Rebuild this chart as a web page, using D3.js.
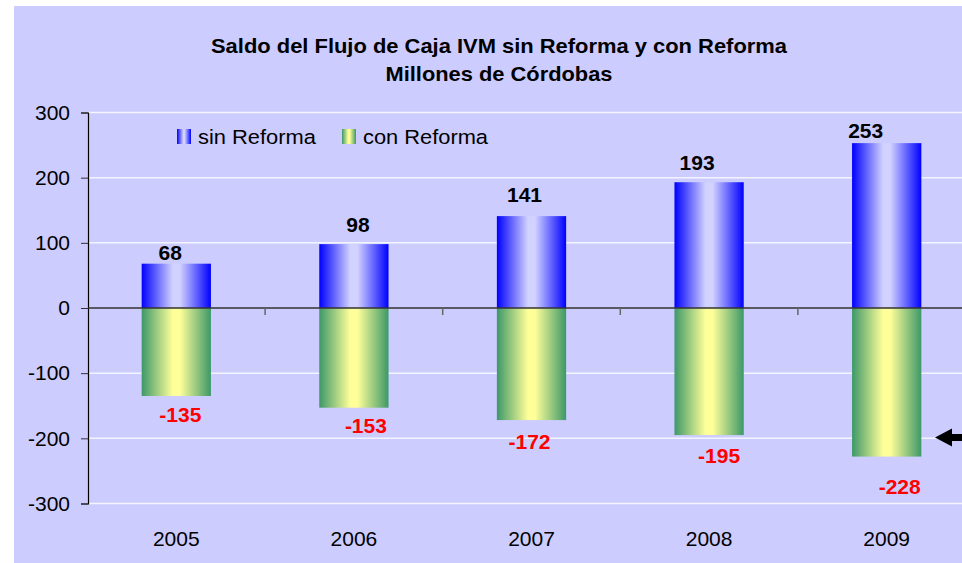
<!DOCTYPE html>
<html><head><meta charset="utf-8">
<script src="https://cdn.jsdelivr.net/npm/d3@7"></script>
<style>html,body{margin:0;padding:0;background:#fff;}svg{display:block;font-family:"Liberation Sans",Arial,sans-serif;}</style>
</head><body>
<svg id="c" width="962" height="563"></svg>
<script>
const years = ["2005","2006","2007","2008","2009"];
const sinReforma = [68, 98, 141, 193, 253];
const conReforma = [-135, -153, -172, -195, -228];
const yTicks = [300, 200, 100, 0, -100, -200, -300];
const seriesNames = ["sin Reforma", "con Reforma"];
const titleLines = ["Saldo del Flujo de Caja IVM sin Reforma y con Reforma", "Millones de Córdobas"];
// label nudges (layout only, as placed in the reference)
const posNudge = [[-6,-4],[4,-12],[-7,-14],[-12,-12],[-21,-5]];
const negNudge = [[4,26],[12,25],[-2,29],[10,28],[13,37]];

const svg = d3.select("#c");
const defs = svg.append("defs");
function grad(id, edge, mid){
  const g = defs.append("linearGradient").attr("id", id).attr("x1","0%").attr("x2","100%").attr("y1","0%").attr("y2","0%");
  g.append("stop").attr("offset","0%").attr("stop-color",edge);
  g.append("stop").attr("offset","45%").attr("stop-color",mid);
  g.append("stop").attr("offset","55%").attr("stop-color",mid);
  g.append("stop").attr("offset","100%").attr("stop-color",edge);
}
grad("gBlue", "#0000ff", "#d2d2ff");
grad("gGreen", "#3d9868", "#ffff99");

svg.append("rect").attr("x",14).attr("y",6).attr("width",960).attr("height",570).attr("fill","#ccccff");

const x = d3.scaleBand().domain(years).range([87.5, 975.5]).paddingInner(0.61).paddingOuter(0.305);
const y = d3.scaleLinear().domain([-300, 300]).range([503.5, 112.5]);

// gridlines
svg.append("g").selectAll("line").data(yTicks.filter(d => d !== 0)).join("line")
  .attr("x1", 88).attr("x2", 962).attr("y1", d => y(d)).attr("y2", d => y(d))
  .attr("stroke", "#f4f4ff").attr("stroke-width", 1.5);

// bars
svg.append("g").selectAll("rect").data(years).join("rect")
  .attr("x", d => x(d)).attr("width", x.bandwidth())
  .attr("y", (d,i) => y(sinReforma[i])).attr("height", (d,i) => y(0) - y(sinReforma[i]))
  .attr("fill", "url(#gBlue)");
svg.append("g").selectAll("rect").data(years).join("rect")
  .attr("x", d => x(d)).attr("width", x.bandwidth())
  .attr("y", y(0)).attr("height", (d,i) => y(conReforma[i]) - y(0))
  .attr("fill", "url(#gGreen)");

// y axis
const yAxis = d3.axisLeft(y).tickValues(yTicks).tickSize(7).tickPadding(11).tickFormat(d => String(d));
const ya = svg.append("g").attr("transform", "translate(88,0)").call(yAxis);
ya.select(".domain").attr("stroke", "#000").attr("stroke-width", 1.2);
ya.selectAll(".tick line").attr("stroke", "#333");
ya.selectAll(".tick text").attr("font-size", 21).attr("fill", "#000").attr("font-family", "Liberation Sans, Arial, sans-serif");

// zero line
svg.append("line").attr("x1", 88).attr("x2", 962).attr("y1", y(0)).attr("y2", y(0)).attr("stroke", "#333").attr("stroke-width", 1.3);
// category ticks
const bounds = years.slice(1).map(d => x(d) - x.step() * x.paddingInner() / 2);
svg.append("g").selectAll("line").data(bounds).join("line")
  .attr("x1", d => d).attr("x2", d => d).attr("y1", y(0)).attr("y2", y(0) + 7)
  .attr("stroke", "#666").attr("stroke-width", 1.5);

// x labels
svg.append("g").selectAll("text").data(years).join("text")
  .attr("x", d => x(d) + x.bandwidth() / 2).attr("y", 546)
  .attr("text-anchor", "middle").attr("font-size", 21).attr("fill", "#000").text(d => d);

// value labels
svg.append("g").selectAll("text").data(years).join("text")
  .attr("x", (d,i) => x(d) + x.bandwidth() / 2 + posNudge[i][0])
  .attr("y", (d,i) => y(sinReforma[i]) + posNudge[i][1])
  .attr("text-anchor", "middle").attr("font-size", 21).attr("font-weight", "bold").attr("fill", "#000")
  .text((d,i) => sinReforma[i]);
svg.append("g").selectAll("text").data(years).join("text")
  .attr("x", (d,i) => x(d) + x.bandwidth() / 2 + negNudge[i][0])
  .attr("y", (d,i) => y(conReforma[i]) + negNudge[i][1])
  .attr("text-anchor", "middle").attr("font-size", 21).attr("font-weight", "bold").attr("fill", "#ff0000")
  .text((d,i) => conReforma[i]);

// title
const titleWidths = [576, 227];
svg.append("g").selectAll("text").data(titleLines).join("text")
  .attr("x", 499).attr("y", (d,i) => 53 + i * 28)
  .attr("text-anchor", "middle").attr("font-size", 20.5).attr("font-weight", "bold").attr("fill", "#000")
  .attr("textLength", (d,i) => titleWidths[i]).attr("lengthAdjust", "spacingAndGlyphs")
  .text(d => d);

// legend
const leg = svg.append("g");
const legX = [177, 342];
const legW = [118, 125];
const legFills = ["url(#gBlue)", "url(#gGreen)"];
seriesNames.forEach((n, i) => {
  leg.append("rect").attr("x", legX[i]).attr("y", 129).attr("width", 14).attr("height", 15).attr("fill", legFills[i]);
  leg.append("text").attr("x", legX[i] + 21).attr("y", 144).attr("font-size", 20.5).attr("fill", "#000")
    .attr("textLength", legW[i]).attr("lengthAdjust", "spacingAndGlyphs").text(n);
});

// arrow
svg.append("path")
  .attr("d", "M935,437.5 L952,428.5 L952,434 L962,434 L962,441 L952,441 L952,446.5 Z")
  .attr("fill", "#000");
</script>
</body></html>
